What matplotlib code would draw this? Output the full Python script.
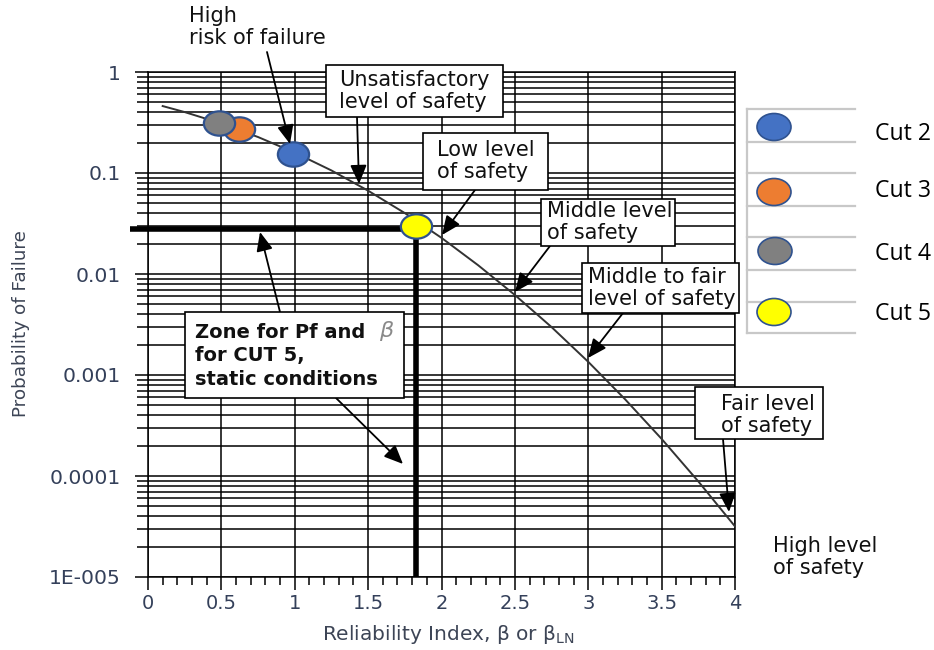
import numpy as np
import matplotlib
matplotlib.use("Agg")
import matplotlib.pyplot as plt
from matplotlib.path import Path
from matplotlib.patches import Rectangle, Ellipse
from matplotlib.ticker import FixedLocator, MultipleLocator, LogLocator, NullFormatter

# ---------------- data ----------------
beta_curve = [0.1, 0.25, 0.5, 0.75, 1.0, 1.25, 1.5, 1.75, 2.0, 2.25, 2.5,
              2.75, 3.0, 3.25, 3.5, 3.75, 4.0]
pf_curve = [0.46, 0.401, 0.309, 0.227, 0.159, 0.106, 0.0668, 0.0401, 0.0228,
            0.0122, 0.0062, 0.00298, 0.00135, 0.000577, 0.000233, 0.0000884,
            0.0000317]

cut_names = ["Cut 2", "Cut 3", "Cut 4", "Cut 5"]
cut_beta = [0.988, 0.62, 0.487, 1.826]
cut_pf = [0.1525, 0.27, 0.316, 0.0299]
cut_colors = ["#4472C4", "#ED7D31", "#808080", "#FFFF00"]

zone_beta = 1.826
zone_pf = 0.028

x_ticks = [0, 0.5, 1, 1.5, 2, 2.5, 3, 3.5, 4]
x_ticklabels = ["0", "0.5", "1", "1.5", "2", "2.5", "3", "3.5", "4"]
y_ticks = [1e-5, 1e-4, 1e-3, 1e-2, 1e-1, 1]
y_ticklabels = ["1E-005", "0.0001", "0.001", "0.01", "0.1", "1"]

# ---------------- figure ----------------
W, H = 934, 650
fig = plt.figure(figsize=(W / 100, H / 100), dpi=100)
fig.patch.set_facecolor("white")

def P(px, py):
    return (px / W, 1 - py / H)

ax = fig.add_axes([148 / W, 1 - 577 / H, (735 - 148) / W, (577 - 72) / H])
ax.set_yscale("log")
ax.set_xlim(0, 4)
ax.set_ylim(1e-5, 1)

grid_kw = dict(color="black", linewidth=1.1)
ax.xaxis.set_major_locator(FixedLocator(x_ticks))
ax.xaxis.set_minor_locator(MultipleLocator(0.1))
ax.set_xticklabels(x_ticklabels)
ax.yaxis.set_major_locator(FixedLocator(y_ticks))
ax.yaxis.set_minor_locator(LogLocator(base=10, subs=np.arange(2, 10), numticks=20))
ax.yaxis.set_minor_formatter(NullFormatter())
ax.set_yticklabels(y_ticklabels)
ax.grid(True, which="major", axis="both", **grid_kw)
ax.grid(True, which="minor", axis="y", **grid_kw)
ax.set_axisbelow(True)
for s in ax.spines.values():
    s.set_linewidth(1.1)
    s.set_color("black")

lab_color = "#34405a"
ax.tick_params(axis="y", which="major", direction="out", length=9.5, width=1.1,
               pad=10, labelsize=14.6, labelcolor=lab_color)
ax.tick_params(axis="y", which="minor", direction="out", length=8, width=1.1)
ax.tick_params(axis="x", which="major", direction="out", length=9.5, width=1.1,
               pad=3, labelsize=14, labelcolor=lab_color)
ax.tick_params(axis="x", which="minor", direction="out", length=5.5, width=1.1)

# curve
ax.plot(beta_curve, pf_curve, color="#333333", linewidth=1.4, zorder=3)

# zone lines for Cut 5
ax.plot([-0.12, zone_beta], [zone_pf, zone_pf], color="black", linewidth=4,
        solid_capstyle="butt", clip_on=False, zorder=4)
ax.plot([zone_beta, zone_beta], [zone_pf, 1e-5], color="black", linewidth=4,
        solid_capstyle="butt", zorder=4)

# ellipse markers
circ = Path.unit_circle()
ell = Path(circ.vertices * np.array([1.0, 0.78]), circ.codes)
order = [1, 2, 0, 3]  # orange, grey (over orange), blue, yellow
for i in order:
    ax.plot([cut_beta[i]], [cut_pf[i]], marker=ell, markersize=22.5,
            markerfacecolor=cut_colors[i], markeredgecolor="#2F528F",
            markeredgewidth=1.6, linestyle="none", zorder=5 + order.index(i))

# axis labels
fig.text(*P(448, 634), "Reliability Index, β or $\\mathregular{β_{LN}}$",
         ha="center", va="center", fontsize=14.5, color="#3d4556")
fig.text(*P(21, 324), "Probability of Failure", rotation=90,
         ha="center", va="center", fontsize=13.2, color="#3d4556")

# ---------------- annotation boxes ----------------
fs = 15
boxes = [
    ((326, 65, 503, 117), "Unsatisfactory\nlevel of safety", 339, 91),
    ((423, 133, 548, 190), "Low level\nof safety", 437, 161),
    ((541, 199, 675, 246), "Middle level\nof safety", 547, 222),
    ((582, 263, 739, 313), "Middle to fair\nlevel of safety", 588, 288),
    ((695, 387, 823, 439), "Fair level\nof safety", 721, 415),
]
for (x0, y0, x1, y1), txt, tx, ty in boxes:
    fig.patches.append(Rectangle(P(x0, y1), (x1 - x0) / W, (y1 - y0) / H,
                                 transform=fig.transFigure, facecolor="white",
                                 edgecolor="black", linewidth=1.2, zorder=10))
    fig.text(*P(tx, ty), txt, ha="left", va="center", fontsize=fs,
             color="#111111", linespacing=1.08, zorder=11)

# zone box
fig.patches.append(Rectangle(P(185, 398), (404 - 185) / W, (398 - 312) / H,
                             transform=fig.transFigure, facecolor="white",
                             edgecolor="black", linewidth=1.2, zorder=10))
fig.text(*P(195, 356), "Zone for Pf and\nfor CUT 5,\nstatic conditions",
         ha="left", va="center", fontsize=14, fontweight="bold",
         color="#111111", linespacing=1.3, zorder=11)
fig.text(*P(387, 331), "$\\beta$", ha="center", va="center", fontsize=16,
         color="#8a8a8a", zorder=11)

# free texts
fig.text(*P(189, 27), "High\nrisk of failure", ha="left", va="center",
         fontsize=fs, color="#111111", linespacing=1.08)
fig.text(*P(773, 557), "High level\nof safety", ha="left", va="center",
         fontsize=fs, color="#111111", linespacing=1.08)

# arrows (start, tip) in figure pixels
arrows = [
    ((267, 52), (290, 144)),
    ((357, 117), (359, 184)),
    ((475, 190), (442, 235)),
    ((550, 246), (515, 292)),
    ((623, 313), (588, 358)),
    ((723, 439), (729, 512)),
    ((280, 312), (260, 232)),
    ((336, 398), (403, 464)),
]
for (sx, sy), (ex, ey) in arrows:
    ax.annotate("", xy=P(ex, ey), xycoords="figure fraction",
                xytext=P(sx, sy), textcoords="figure fraction",
                arrowprops=dict(arrowstyle="-|>,head_length=1.15,head_width=0.5",
                                mutation_scale=10, color="black", linewidth=1.3,
                                shrinkA=0, shrinkB=0),
                zorder=12, annotation_clip=False)

# ---------------- legend table ----------------
leg_color = "#c8c8c8"
row_lines = [109, 142, 173, 206, 237, 270, 302, 333]
for yy in row_lines:
    fig.lines.append(plt.Line2D([747 / W, 855 / W], [1 - yy / H, 1 - yy / H],
                                transform=fig.transFigure, color=leg_color,
                                linewidth=1.6))
fig.lines.append(plt.Line2D([747 / W, 747 / W], [1 - 109 / H, 1 - 333 / H],
                            transform=fig.transFigure, color=leg_color,
                            linewidth=1.6))
leg_mark_pos = [(774, 127), (774, 192), (775, 251), (774, 312)]
leg_text_y = [134, 191, 254, 314]
for i, name in enumerate(cut_names):
    mx, my = leg_mark_pos[i]
    fig.patches.append(Ellipse(P(mx, my), 34 / W, 27 / H,
                               transform=fig.transFigure,
                               facecolor=cut_colors[i], edgecolor="#2F528F",
                               linewidth=1.2, zorder=10))
    fig.text(*P(875, leg_text_y[i]), name, ha="left", va="center",
             fontsize=16.6, family="Open Sans", color="black")

fig.savefig("out.png", dpi=100)
